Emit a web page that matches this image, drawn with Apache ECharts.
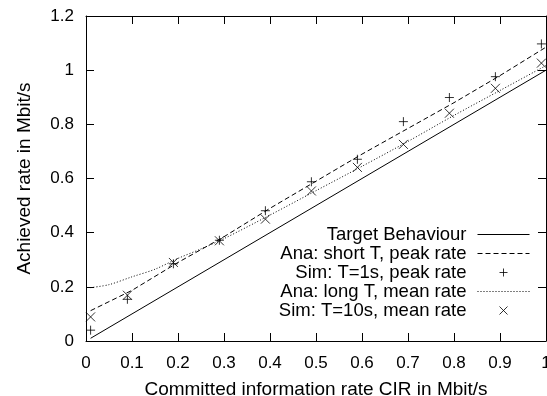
<!DOCTYPE html>
<html><head><meta charset="utf-8">
<script src="https://cdn.jsdelivr.net/npm/echarts@6/dist/echarts.min.js"></script>
<style>html,body{margin:0;padding:0;background:#fff}#c{width:547px;height:396px}</style>
</head><body><div id="c"></div>
<script>
// Data
const targetX = [0.01, 1.0];
const targetY = [0.01, 1.0];
const anaShortX = [0.01, 0.1, 0.2, 0.3, 0.4, 0.5, 0.6, 0.7, 0.8, 0.9, 1.0];
const anaShortY = [0.112, 0.187, 0.29, 0.385, 0.49, 0.59, 0.69, 0.785, 0.88, 0.98, 1.085];
const anaLongX = [0.01, 0.05, 0.1, 0.15, 0.2, 0.25, 0.3, 0.4, 0.5, 0.6, 0.7, 0.8, 0.9, 1.0];
const anaLongY = [0.197, 0.208, 0.237, 0.265, 0.305, 0.34, 0.378, 0.465, 0.555, 0.645, 0.737, 0.833, 0.925, 1.017];
const simX = [0.01, 0.09, 0.19, 0.29, 0.39, 0.49, 0.59, 0.69, 0.79, 0.89, 0.99];
const simPeakY = [0.04, 0.154, 0.285, 0.372, 0.481, 0.588, 0.671, 0.81, 0.899, 0.976, 1.097];
const simMeanY = [0.089, 0.169, 0.29, 0.37, 0.45, 0.554, 0.641, 0.726, 0.841, 0.933, 1.026];
const names = ['Target Behaviour', 'Ana: short T, peak rate', 'Sim: T=1s, peak rate', 'Ana: long T, mean rate', 'Sim: T=10s, mean rate'];
const xTicks = [0, 0.1, 0.2, 0.3, 0.4, 0.5, 0.6, 0.7, 0.8, 0.9, 1];
const yTicks = [0, 0.2, 0.4, 0.6, 0.8, 1.0, 1.2];

const zip = (xs, ys) => xs.map((x, i) => [x, ys[i]]);
const FONT = 'Liberation Sans, Arial, sans-serif';
const plusPath = 'path://M0,-1L0,1M-1,0L1,0';
const crossPath = 'path://M-1,-1L1,1M-1,1L1,-1';
const hiddenSym = {color: 'rgba(0,0,0,0)', borderColor: 'rgba(0,0,0,0)', borderWidth: 0};
const strokeSym = {color: 'rgba(0,0,0,0)', borderColor: '#000', borderWidth: 1};

const chart = echarts.init(document.getElementById('c'), null, {renderer: 'canvas'});
const axisCommon = {
  min: 0,
  axisLine: {show: true, onZero: false, lineStyle: {color: '#000', width: 1}},
  axisTick: {show: true, inside: true, length: 8, lineStyle: {color: '#000', width: 1}},
  splitLine: {show: false}
};
chart.setOption({
  animation: false,
  backgroundColor: '#fff',
  grid: {left: 86, right: 1, top: 16, bottom: 55, show: false, containLabel: false, outerBoundsMode: 'none'},
  legend: {
    orient: 'vertical', right: 12, top: 220, align: 'right',
    itemWidth: 52, itemHeight: 8, itemGap: 0,
    lineStyle: {width: 1},
    textStyle: {fontFamily: FONT, fontSize: 18.5, lineHeight: 18.7, color: '#000', padding: [0, 6, 0, 0]},
    data: [
      {name: names[0], itemStyle: hiddenSym},
      {name: names[1], itemStyle: hiddenSym},
      {name: names[2], itemStyle: strokeSym},
      {name: names[3], itemStyle: hiddenSym},
      {name: names[4], itemStyle: strokeSym}
    ]
  },
  xAxis: [
    Object.assign({}, axisCommon, {
      type: 'value', max: 1, interval: 0.1, position: 'bottom',
      axisLabel: {fontFamily: FONT, fontSize: 17, color: '#000', margin: 14,
        formatter: v => String(Math.round(v * 10) / 10)},
      name: 'Committed information rate CIR in Mbit/s', nameLocation: 'middle', nameGap: 39,
      nameTextStyle: {fontFamily: FONT, fontSize: 19, color: '#000'}
    }),
    Object.assign({}, axisCommon, {
      type: 'value', max: 1, interval: 0.1, position: 'top', axisLabel: {show: false}
    })
  ],
  yAxis: [
    Object.assign({}, axisCommon, {
      type: 'value', max: 1.2, interval: 0.2, position: 'left',
      axisLabel: {fontFamily: FONT, fontSize: 17, color: '#000', margin: 12,
        formatter: v => String(Math.round(v * 10) / 10)},
      name: 'Achieved rate in Mbit/s', nameLocation: 'middle', nameGap: 52,
      nameTextStyle: {fontFamily: FONT, fontSize: 19, color: '#000'}
    }),
    Object.assign({}, axisCommon, {
      type: 'value', max: 1.2, interval: 0.2, position: 'right', axisLabel: {show: false}
    })
  ],
  series: [
    {name: names[0], type: 'line', data: zip(targetX, targetY), showSymbol: false, symbol: 'none',
      lineStyle: {color: '#000', width: 1}, itemStyle: {color: '#000'}, z: 3},
    {name: names[1], type: 'line', data: zip(anaShortX, anaShortY), showSymbol: false, symbol: 'none',
      lineStyle: {color: '#000', width: 1, type: [5, 3]}, itemStyle: {color: '#000'}, z: 3},
    {name: names[2], type: 'scatter', data: zip(simX, simPeakY), symbol: plusPath, symbolSize: 9,
      itemStyle: strokeSym, z: 4},
    {name: names[3], type: 'line', data: zip(anaLongX, anaLongY), showSymbol: false, symbol: 'none', smooth: 0.3,
      lineStyle: {color: '#000', width: 1, type: [1, 2]}, itemStyle: {color: '#000'}, z: 3},
    {name: names[4], type: 'scatter', data: zip(simX, simMeanY), symbol: crossPath, symbolSize: 9,
      itemStyle: strokeSym, z: 4}
  ]
});
</script></body></html>
